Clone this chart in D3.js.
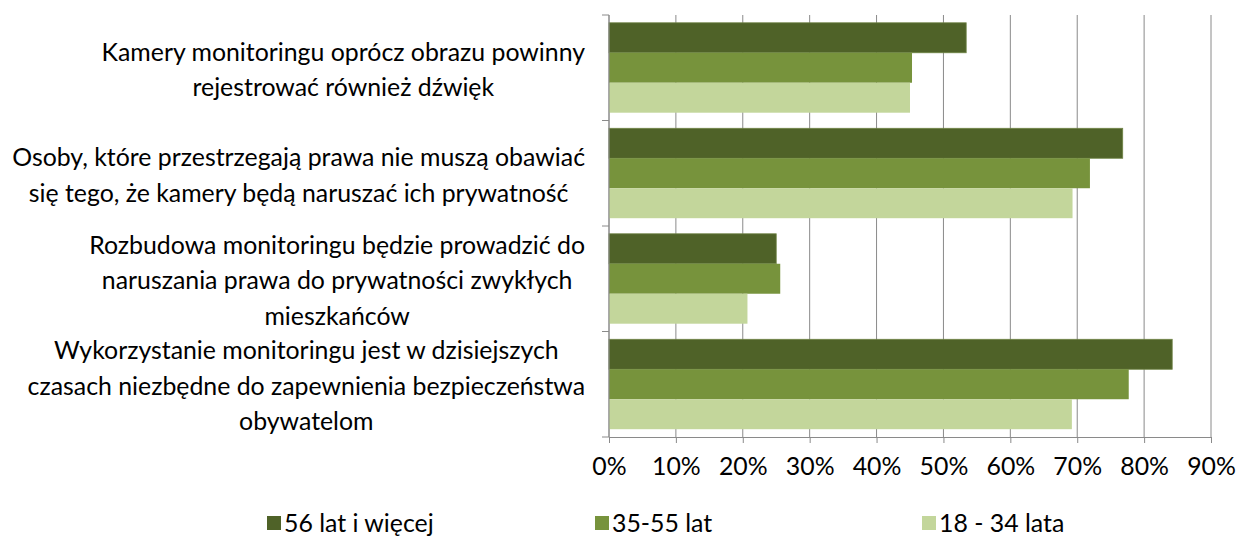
<!DOCTYPE html>
<html>
<head>
<meta charset="utf-8">
<script src="https://cdn.jsdelivr.net/npm/d3@7"></script>
<style>
  body { margin: 0; background: #fff; }
  svg text { font-family: Lato, "Open Sans", sans-serif; fill: #000; }
</style>
</head>
<body>
<div id="chart"></div>
<script>
// data
const categories = [
  ['Kamery monitoringu oprócz obrazu powinny', 'rejestrować również dźwięk'],
  ['Osoby, które przestrzegają prawa nie muszą obawiać', 'się tego, że kamery będą naruszać ich prywatność'],
  ['Rozbudowa monitoringu będzie prowadzić do', 'naruszania prawa do prywatności zwykłych', 'mieszkańców'],
  ['Wykorzystanie monitoringu jest w dzisiejszych', 'czasach niezbędne do zapewnienia bezpieczeństwa', 'obywatelom']
];
const seriesNames = ['56 lat i więcej', '35-55 lat', '18 - 34 lata'];
const seriesColors = ['#4F6228', '#77933C', '#C3D69B'];
const age56plus = [53.4, 76.8, 25.0, 84.2];
const age35to55 = [45.3, 71.9, 25.6, 77.7];
const age18to34 = [45.0, 69.3, 20.7, 69.2];
const xTicks = [0, 10, 20, 30, 40, 50, 60, 70, 80, 90];

const series = [age56plus, age35to55, age18to34];

const W = 1236, H = 539;
const margin = {t: 15, r: 25, b: 102, l: 609};
const width = 1211 - margin.l;
const height = 437 - margin.t;

const svg = d3.select('#chart').append('svg').attr('width', W).attr('height', H);
const g = svg.append('g').attr('transform', `translate(${margin.l},${margin.t})`);

const x = d3.scaleLinear([0, 90], [0, width]);
const y = d3.scaleBand(d3.range(categories.length), [0, height]);
const inner = d3.scaleBand(d3.range(series.length), [0, y.bandwidth()]).paddingOuter(0.26).paddingInner(0);

// font size fitted so the widest label line spans like the original
const probe = svg.append('text').attr('font-size', 20).text(categories[1][0]);
const fontSize = 20 * 573 / probe.node().getComputedTextLength();
probe.remove();
const lineH = fontSize * 1.43;

// grid lines
g.append('g')
  .selectAll('line')
  .data(xTicks)
  .join('line')
  .attr('x1', d => x(d)).attr('x2', d => x(d))
  .attr('y1', 0).attr('y2', height)
  .attr('stroke', '#8a8a8a').attr('stroke-width', 1);

// bars
series.forEach((vals, si) => {
  g.append('g')
    .selectAll('rect')
    .data(vals)
    .join('rect')
    .attr('x', x(0))
    .attr('y', (d, i) => y(i) + inner(si))
    .attr('width', d => x(d) - x(0))
    .attr('height', inner.bandwidth())
    .attr('fill', seriesColors[si])
    .attr('stroke', si === 0 ? '#6f8446' : 'none')
    .attr('stroke-width', 0.8);
});

// x axis
const xAxis = g.append('g')
  .attr('transform', `translate(0,${height})`)
  .call(d3.axisBottom(x).tickValues(xTicks).tickFormat(d => d + '%').tickSize(6).tickPadding(14))
  .call(a => a.selectAll('.domain,.tick line').attr('stroke', '#8a8a8a'));
xAxis.selectAll('text').attr('font-size', fontSize).attr('fill', '#000')
  .attr('font-family', 'Lato, "Open Sans", sans-serif');

// category axis
const yEdges = d3.range(categories.length + 1).map(i => i * y.step());
g.append('line').attr('x1', 0).attr('x2', 0).attr('y1', 0).attr('y2', height)
  .attr('stroke', '#8a8a8a');
g.append('g').selectAll('line').data(yEdges).join('line')
  .attr('x1', -7).attr('x2', 0).attr('y1', d => d).attr('y2', d => d)
  .attr('stroke', '#8a8a8a');

// category labels
const labelRight = -24;
categories.forEach((lines, i) => {
  const t = g.append('text').attr('font-size', fontSize).attr('text-anchor', 'middle');
  const cy = y(i) + y.bandwidth() / 2 + 2;
  const y0 = cy - (lines.length - 1) * lineH / 2;
  lines.forEach((ln, j) => {
    t.append('tspan').attr('y', y0 + j * lineH).attr('dy', '0.35em').text(ln);
  });
  let maxW = 0;
  t.selectAll('tspan').each(function() { maxW = Math.max(maxW, this.getComputedTextLength()); });
  t.selectAll('tspan').attr('x', labelRight - maxW / 2);
});

// legend
const legendX = [267, 595, 922];
const legend = svg.append('g').attr('transform', 'translate(0,523)');
seriesNames.forEach((name, i) => {
  legend.append('rect').attr('x', legendX[i]).attr('y', -7).attr('width', 14).attr('height', 14)
    .attr('fill', seriesColors[i]);
  legend.append('text').attr('x', legendX[i] + 17).attr('y', 0).attr('dy', '0.35em')
    .attr('font-size', fontSize).text(name);
});
</script>
</body>
</html>
